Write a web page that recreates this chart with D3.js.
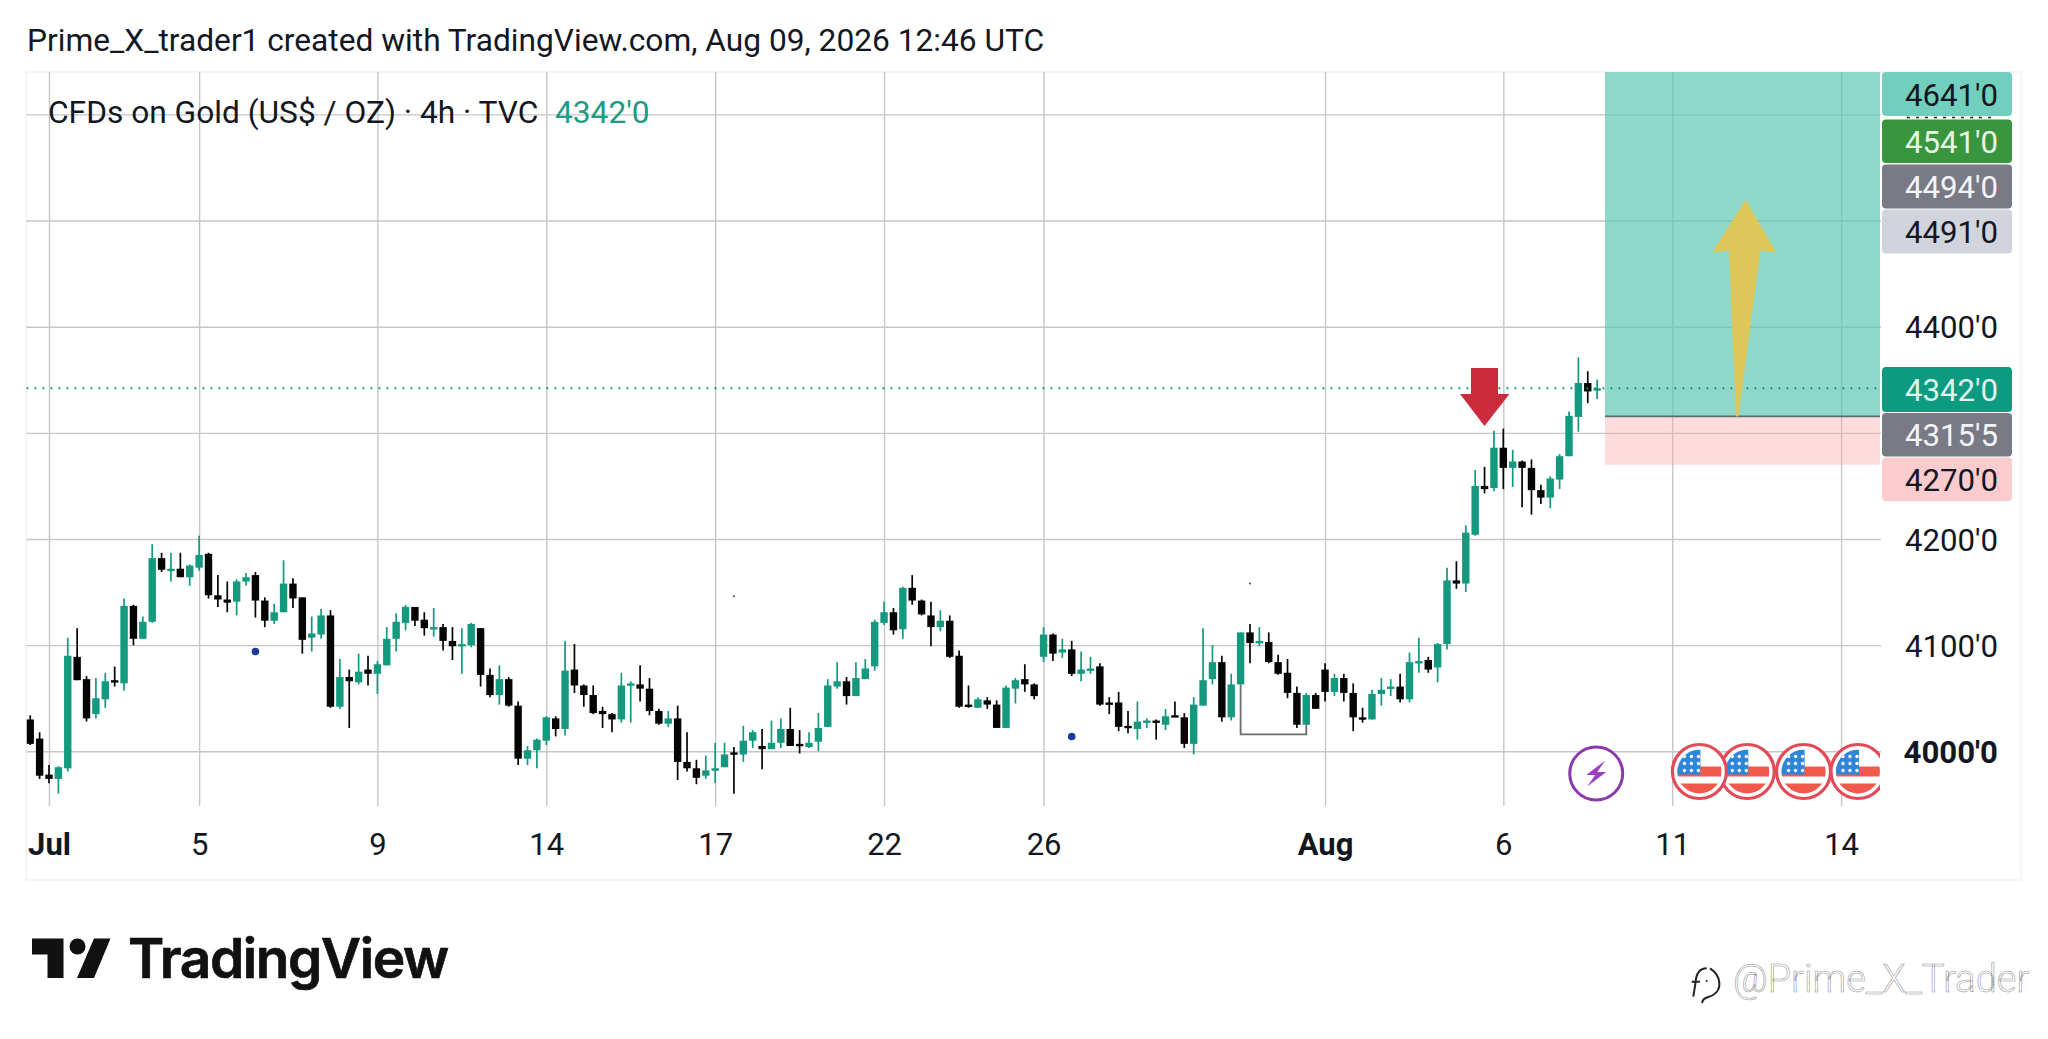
<!DOCTYPE html>
<html><head><meta charset="utf-8">
<script src="https://cdnjs.cloudflare.com/ajax/libs/d3/7.8.5/d3.min.js"></script>
<style>html,body{margin:0;padding:0;background:#fff;overflow:hidden}svg{display:block;font-family:Roboto,sans-serif}</style>
</head><body><svg id="c" width="2048" height="1039"></svg>
<script>
const opens=[4030,4012,3978,3974,3984,4089,4068,4035,4049,4067,4064,4137,4106,4122,4182,4171,4172,4164,4173,4186,
4147,4143,4141,4160,4166,4142,4123,4131,4158,4145,4107,4110,4128,4042,4070,4065,4077,4073,4081,4106,
4121,4136,4124,4116,4117,4104,4100,4100,4116,4072,4053,4068,4043,3993,4001,4010,4031,4021,4077,4062,
4053,4038,4035,4030,4063,4063,4059,4038,4026,4031,3990,3984,3977,3983,3985,3999,3997,4010,4005,4002,
4008,4021,4007,4004,4009,4023,4061,4066,4052,4068,4080,4121,4131,4115,4154,4142,4128,4117,4123,4090,
4044,4041,4048,4044,4022,4059,4068,4063,4089,4110,4093,4096,4073,4076,4080,4046,4046,4024,4021,4027,
4029,4025,4034,4032,4007,4043,4068,4084,4032,4063,4112,4102,4103,4084,4074,4055,4025,4053,4077,4056,
4069,4055,4032,4030,4054,4059,4061,4049,4084,4086,4079,4101,4161,4158,4204,4250,4248,4286,4267,4273,
4267,4246,4239,4256,4278,4315,4347,4341];
const closes=[4007,3977,3974,3985,4090,4067,4031,4050,4066,4065,4137,4106,4122,4182,4171,4172,4164,4175,4185,4147,
4143,4140,4160,4164,4142,4123,4131,4158,4144,4105,4111,4128,4042,4070,4066,4075,4073,4082,4106,4122,
4136,4123,4116,4117,4104,4099,4101,4120,4072,4053,4068,4043,3993,4001,4011,4032,4021,4076,4062,4053,
4036,4035,4030,4062,4064,4059,4038,4026,4031,3990,3984,3975,3982,3984,3997,3997,4010,4018,4002,4008,
4021,4005,4005,4008,4022,4062,4066,4052,4069,4078,4122,4131,4114,4154,4142,4129,4117,4123,4089,4042,
4042,4049,4044,4022,4060,4067,4063,4052,4110,4092,4096,4073,4077,4078,4044,4044,4023,4023,4028,4029,
4027,4033,4033,4007,4044,4067,4084,4032,4063,4112,4102,4104,4084,4073,4055,4025,4053,4040,4056,4069,
4055,4032,4031,4054,4058,4061,4049,4084,4085,4077,4101,4161,4158,4206,4250,4247,4286,4267,4273,4267,
4246,4239,4257,4278,4316,4347,4339,4342];
const highs=[4034,4018,3987,3986,4107,4116,4071,4069,4074,4080,4144,4138,4127,4195,4187,4187,4187,4176,4203,4187,
4166,4160,4162,4168,4169,4145,4139,4180,4163,4145,4127,4134,4133,4087,4077,4092,4090,4085,4117,4130,
4138,4136,4131,4135,4120,4117,4116,4121,4116,4078,4081,4070,4047,4005,4012,4033,4033,4104,4101,4063,
4062,4042,4036,4074,4066,4081,4069,4040,4038,4043,4018,3992,3996,4008,4008,4004,4024,4020,4021,4029,
4031,4041,4020,4018,4036,4068,4084,4070,4084,4087,4124,4141,4135,4155,4166,4143,4141,4133,4128,4095,
4062,4051,4051,4048,4062,4069,4082,4064,4117,4111,4106,4104,4094,4089,4083,4051,4056,4038,4047,4031,
4030,4040,4047,4036,4051,4116,4100,4090,4073,4112,4120,4117,4112,4091,4087,4061,4055,4055,4083,4073,
4073,4064,4041,4058,4069,4068,4073,4093,4107,4089,4102,4173,4179,4213,4265,4268,4302,4304,4284,4274,
4275,4251,4259,4280,4320,4371,4358,4350];
const lows=[4006,3974,3970,3960,3981,4067,4028,4031,4041,4061,4057,4100,4106,4121,4169,4160,4164,4156,4170,4144,
4136,4131,4128,4156,4126,4117,4120,4131,4135,4092,4094,4106,4041,4040,4022,4063,4062,4054,4081,4094,
4114,4118,4109,4108,4095,4086,4073,4098,4061,4051,4044,4042,3987,3987,3984,4006,4014,4015,4055,4042,
4035,4022,4018,4027,4027,4047,4034,4025,4023,3973,3981,3969,3974,3970,3985,3960,3990,4003,3983,4002,
4003,4005,3998,4003,4000,4023,4059,4044,4052,4068,4076,4119,4110,4106,4138,4128,4099,4113,4088,4041,
4041,4041,4040,4022,4022,4045,4056,4049,4084,4085,4088,4071,4066,4073,4043,4035,4019,4017,4011,4022,
4011,4020,4033,4003,3997,4043,4063,4028,4029,4063,4083,4099,4083,4072,4050,4022,4025,4040,4047,4052,
4047,4019,4027,4030,4043,4052,4046,4046,4074,4074,4065,4096,4153,4150,4203,4243,4245,4247,4249,4230,
4223,4233,4229,4247,4278,4301,4328,4332];
const priceTicks=[4000,4100,4200,4300,4400,4500,4600];
const printedPriceTicks=[4000,4100,4200,4400];
const timeTickBars=[2,18,37,55,73,91,108,138,157,175,193];
const timeTickLabels=["Jul","5","9","14","17","22","26","Aug","6","11","14"];
const boldTimeLabels=["Jul","Aug"];
const targetPrice=4641, entryPrice=4315.5, stopPrice=4270, lastPrice=4342;
const boxLabels=["4641'0","4541'0","4494'0","4491'0","4342'0","4315'5","4270'0"];
const blueDotBars=[24,111], blueDotPrices=[4094,4014];
const tinyDotBars=[75,130], tinyDotPrices=[4146,4158];
const bracketBars=[129,129,136,136], bracketPrices=[4063,4016,4016,4025];
const flagBars=[177.9,183,189,194.8];
const eventBar=166.9;

const W=2048,H=1039,L=26.5,R=1881,T=72,B=806,BOXB=880;
const GREEN="#14997f",BLACK="#050505",GRID="#c5c6c9";
const x=d3.scaleLinear().domain([2,193]).range([49,1841.1]);
const y=d3.scaleLinear().domain([4000,4600]).range([751.3,114.4]);
const svg=d3.select("#c");
const defs=svg.append("defs");
defs.append("clipPath").attr("id","plot").append("rect").attr("x",L).attr("y",T).attr("width",R-L-1).attr("height",B-T);

// frame
svg.append("rect").attr("x",L).attr("y",T).attr("width",2021-L).attr("height",BOXB-T).attr("fill","none").attr("stroke","#f1f1f3").attr("stroke-width",1.3);

// time axis + vertical grid
const xAxis=d3.axisBottom(x).tickValues(timeTickBars).tickSize(-(B-T)).tickPadding(0).tickFormat((d,i)=>timeTickLabels[i]);
const gx=svg.append("g").attr("transform",`translate(0,${B})`).call(xAxis);
gx.select(".domain").remove();
gx.selectAll("line").attr("stroke",GRID).attr("stroke-width",1.4);
gx.selectAll("text").attr("y",48.5).attr("dy",0).attr("fill","#131722").attr("font-size",31).attr("text-anchor","middle")
  .attr("font-weight",function(){return boldTimeLabels.includes(this.textContent)?700:400;}).attr("font-family","Roboto");

// price axis + horizontal grid
const yAxis=d3.axisRight(y).tickValues(priceTicks).tickSize(-(R-L)).tickFormat(d=>printedPriceTicks.includes(d)?d+"'0":"");
const gy=svg.append("g").attr("transform",`translate(${R},0)`).call(yAxis);
gy.select(".domain").remove();
gy.selectAll("line").attr("stroke",GRID).attr("stroke-width",1.4);
gy.selectAll("text").attr("x",1998-R).attr("text-anchor","end").attr("dy","0.36em").attr("fill","#131722").attr("font-size",31.2)
  .attr("font-family","Roboto").attr("font-weight",d=>d===4000?700:400);

// position tool
const plot=svg.append("g").attr("clip-path","url(#plot)");
const posL=1605,posR=1880;
svg.append("rect").attr("x",posL).attr("y",T).attr("width",posR-posL).attr("height",y(entryPrice)-T).attr("fill","#5cc6b1").attr("fill-opacity",.68);
svg.append("rect").attr("x",posL).attr("y",y(entryPrice)).attr("width",posR-posL).attr("height",y(stopPrice)-y(entryPrice)).attr("fill","#f9a7a9").attr("fill-opacity",.4);
svg.append("line").attr("x1",posL).attr("x2",posR).attr("y1",y(entryPrice)).attr("y2",y(entryPrice)).attr("stroke","#5a6b68").attr("stroke-width",1.6);

// last price dotted
svg.append("line").attr("x1",L).attr("x2",posR).attr("y1",y(lastPrice)).attr("y2",y(lastPrice)).attr("stroke","#0b8f79").attr("stroke-width",1.8).attr("stroke-dasharray","1.8 6.2");

// drawing bracket
const bracket=d3.line().x((d,i)=>x(bracketBars[i])).y(d=>y(d));
plot.append("path").attr("d",bracket(bracketPrices)).attr("fill","none").attr("stroke","#6d6d6d").attr("stroke-width",1.8);

// candles
const bars=d3.range(opens.length);
const cw=7.4;
const cand=plot.append("g").selectAll("g").data(bars).join("g");
cand.append("line").attr("x1",i=>x(i)).attr("x2",i=>x(i)).attr("y1",i=>y(highs[i])).attr("y2",i=>y(lows[i]))
  .attr("stroke",i=>closes[i]>=opens[i]?GREEN:BLACK).attr("stroke-width",1.7);
cand.append("rect").attr("x",i=>x(i)-cw/2).attr("width",cw)
  .attr("y",i=>y(Math.max(opens[i],closes[i])))
  .attr("height",i=>Math.max(2.4,Math.abs(y(opens[i])-y(closes[i]))))
  .attr("fill",i=>closes[i]>=opens[i]?GREEN:BLACK);

// dots
svg.append("g").selectAll("circle").data(blueDotBars).join("circle").attr("cx",d=>x(d)).attr("cy",(d,i)=>y(blueDotPrices[i])).attr("r",3.8).attr("fill","#1c3a9c");
svg.append("g").selectAll("circle").data(tinyDotBars).join("circle").attr("cx",d=>x(d)).attr("cy",(d,i)=>y(tinyDotPrices[i])).attr("r",1).attr("fill","#444");

// red arrow
svg.append("path").attr("d","M1471,368H1498V394H1509.5L1484.5,426L1460,394H1471Z").attr("fill","#cc2b3e");
// yellow arrow
svg.append("path").attr("d","M1745.7,200.5L1775.5,252L1760,250L1738,416L1736.5,416L1729.5,250L1713,252Z").attr("fill","#dcc758").attr("stroke","#dcc758").attr("stroke-width",1).attr("stroke-linejoin","round");

// price boxes
const boxTops=[72,119.5,164.5,209.5,367,413,457.5];
const boxH=[44,43.5,44,44,45,43.5,43.5];
const boxFill=["#72cfbe","#3a953f","#787b86","#d1d4dc","#0c9a80","#787b86","#fccbcd"];
const boxText=["#131722","#e6f7e6","#f4f4f6","#131722","#dff5ef","#f4f4f6","#131722"];
const gb=svg.append("g");
boxLabels.forEach((t,i)=>{
  gb.append("rect").attr("x",1882).attr("y",boxTops[i]).attr("width",130).attr("height",boxH[i]).attr("rx",4).attr("fill",boxFill[i]);
  gb.append("text").attr("x",1998).attr("y",boxTops[i]+boxH[i]/2+11.5).attr("text-anchor","end").attr("font-size",31.2).attr("fill",boxText[i]).text(t);
});
svg.append("line").attr("x1",1907).attr("x2",1997).attr("y1",117.5).attr("y2",117.5).attr("stroke","#222").attr("stroke-width",1.5).attr("stroke-dasharray","3 6");

// lightning icon
const ev=svg.append("g").attr("transform",`translate(${x(eventBar)},773.5)`);
ev.append("circle").attr("r",26.5).attr("fill","#fff").attr("stroke","#8b3aae").attr("stroke-width",3);
ev.append("path").attr("d","M9,-13L-10,1.5H-1L-9,13L10,-1.5H1Z").attr("fill","#9a3fc0");

// flags
defs.append("clipPath").attr("id","flagsClip").append("rect").attr("x",1600).attr("y",730).attr("width",280).attr("height",90);
defs.append("clipPath").attr("id","inner").append("circle").attr("r",22);
const flagsG=svg.append("g").attr("clip-path","url(#flagsClip)");
[1,0,2,3].forEach(k=>{
  const g=flagsG.append("g").attr("transform",`translate(${x(flagBars[k])},771.5)`);
  g.append("circle").attr("r",27).attr("fill","#fff").attr("stroke","#e24a58").attr("stroke-width",3.2);
  const f=g.append("g").attr("clip-path","url(#inner)");
  f.append("rect").attr("x",-23).attr("y",-23).attr("width",46).attr("height",46).attr("fill","#fff");
  f.append("rect").attr("x",-23).attr("y",-5).attr("width",46).attr("height",10).attr("fill","#ef5a4c");
  f.append("rect").attr("x",-23).attr("y",12).attr("width",46).attr("height",11).attr("fill","#ef5a4c");
  f.append("rect").attr("x",-23).attr("y",-22).attr("width",24).attr("height",25).attr("fill","#2f86d8");
  [[-15,-15],[-8,-15],[-1,-15],[-15,-8],[-8,-8],[-1,-8],[-15,-1],[-8,-1],[-1,-1]].forEach(p=>f.append("circle").attr("cx",p[0]).attr("cy",p[1]).attr("r",1.7).attr("fill","#fff"));
});

// titles
svg.append("text").attr("x",27).attr("y",51).attr("font-size",31.7).attr("fill","#131722").text("Prime_X_trader1 created with TradingView.com, Aug 09, 2026 12:46 UTC");
const lg=svg.append("text").attr("x",48).attr("y",123).attr("font-size",31.7).attr("fill","#131722");
lg.append("tspan").text("CFDs on Gold (US$ / OZ) · 4h · TVC");
lg.append("tspan").attr("x",555).attr("fill","#1d9c83").text("4342'0");

// logo
const lo=svg.append("g").attr("fill","#111");
lo.append("path").attr("d","M32,938.5H63.5V978H47.5V954.5H32Z");
lo.append("circle").attr("cx",77.5).attr("cy",946.5).attr("r",8);
lo.append("path").attr("d","M94,938.5H110.5L94,978H77Z");
svg.append("text").attr("x",128).attr("y",978).attr("font-family","Inter").attr("font-weight",600).attr("font-size",55).attr("letter-spacing",-1.4).attr("fill","#111").attr("stroke","#111").attr("stroke-width",.7).text("TradingView");

// watermark
svg.append("text").attr("x",1733).attr("y",992).attr("font-family","Roboto").attr("font-weight",300).attr("font-size",38).attr("fill","#fff").attr("stroke","#9a9a9a").attr("stroke-width",.6).text("@Prime_X_Trader");
const wm=svg.append("g").attr("fill","none").attr("stroke","#222").attr("stroke-width",2);
wm.append("path").attr("d","M1710,968.3C1722,976 1722,990 1713,995C1708,998 1703,997 1702,1003");
wm.append("path").attr("d","M1706.7,968.3C1699,968.5 1696,974 1695.5,983L1693.3,996.7M1691.7,981.7H1700");
wm.append("circle").attr("cx",1706.7).attr("cy",981).attr("r",1).attr("fill","#222").attr("stroke","none");
</script></body></html>
